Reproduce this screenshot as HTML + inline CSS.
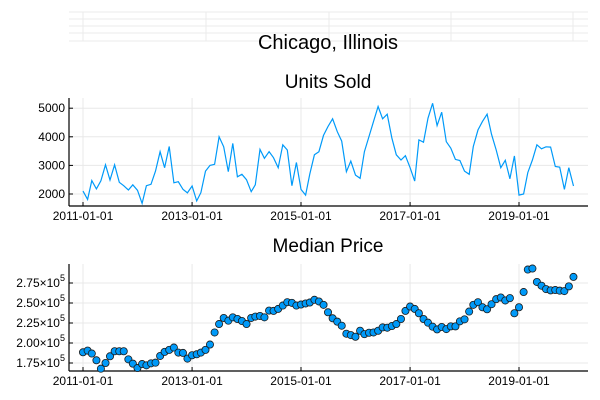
<!DOCTYPE html>
<html><head><meta charset="utf-8"><style>
html,body{margin:0;padding:0;background:#fff;}
svg{display:block;font-family:"Liberation Sans","DejaVu Sans",sans-serif;}
</style></head><body>
<svg id="chart" width="600" height="400">
<g id="bg-grid"></g>
<text x="328" y="49" font-size="20" text-anchor="middle" fill="#000">Chicago, Illinois</text>
<text x="328" y="88" font-size="19" text-anchor="middle" fill="#000">Units Sold</text>
<text x="328" y="252" font-size="19" text-anchor="middle" fill="#000">Median Price</text>
<g id="topPanel"></g>
<g id="botPanel"></g>
</svg>
<script>
const units = [2100,1810,2470,2180,2460,3020,2490,3020,2410,2290,2140,2320,2130,1670,2290,2340,2800,3480,2920,3660,2390,2430,2160,2040,
2280,1760,2050,2800,3000,3040,4000,3650,2780,3770,2600,2690,2500,2080,2320,3560,3250,3480,3270,2920,3720,3540,2290,3100,
2160,1960,2700,3370,3480,4050,4360,4630,4180,3850,2780,3150,2660,2550,3480,4010,4530,5060,4630,4790,3950,3370,3190,3340,
2920,2450,3890,3810,4650,5170,4390,4860,3830,3600,3210,3170,2800,2690,3660,4240,4530,4790,4090,3540,2920,3180,2530,3330,
1960,2000,2750,3190,3720,3580,3650,3640,2960,2940,2160,2920,2280];
const prices = [188400,190500,186800,178400,167900,175000,183400,189700,189700,189700,179600,174200,168700,173700,172100,174600,175400,183800,188900,191400,194300,188000,187600,180500,
184700,185900,188000,191400,198100,213200,223700,231300,227900,232100,230000,227500,223700,231300,233000,233800,232100,240500,240100,242600,246800,251000,250200,246800,
248100,249400,250600,254000,251900,247700,238400,230900,226700,221600,211600,209900,207800,215300,211100,212800,213200,215300,219500,219100,221200,223700,230000,240100,
245600,242600,237200,230000,225400,220400,217000,220000,217400,220800,220800,227100,229600,239300,247700,251000,244700,242200,248500,254800,256900,253200,256100,237200,
244700,263700,291800,293100,276300,271600,267400,265800,266200,265400,264900,270800,282600];
const unitTicks = [2000,3000,4000,5000];
const priceTicks = [175000,200000,225000,250000,275000];
const priceTickLabels = ["1.75","2.00","2.25","2.50","2.75"];
const dateTicks = ["2011-01-01","2013-01-01","2015-01-01","2017-01-01","2019-01-01"];
const startMonth = [2011,0];

const NS="http://www.w3.org/2000/svg";
function el(tag,attrs,parent){const e=document.createElementNS(NS,tag);for(const k in attrs)e.setAttribute(k,attrs[k]);parent.appendChild(e);return e;}
const day0 = Date.UTC(2011,0,1);
const pxPerDay = 109/730.5;
function xDate(ms){return 83+(ms-day0)/86400000*pxPerDay;}
function xIdx(i){return xDate(Date.UTC(startMonth[0],startMonth[1]+i,1));}
function xStr(s){const p=s.split('-');return xDate(Date.UTC(+p[0],+p[1]-1,+p[2]));}
const yU = v => 194 - (v-2000)*28.6/1000;
const yP = v => 343 - (v-200000)*20/25000;
const L=69,R=588;

const bg=document.getElementById('bg-grid');
[12,19,26,33,41].forEach(y=>{const l=el('line',{x1:L,x2:R,y1:y,y2:y,stroke:'#ebebeb','stroke-width':1},bg);

});
[83,206,329,451,573].forEach(x=>{const l=el('line',{x1:x,x2:x,y1:12,y2:41,stroke:'#ebebeb','stroke-width':1},bg);

});

function panel(g,ptop,bottom,yf,ticks,labFn){
  ticks.forEach((t,i)=>{const y=yf(t);
    const gl=el('line',{x1:L,x2:R,y1:y,y2:y,stroke:'#e8e8e8','stroke-width':1},g);
    
    
    const tk=el('line',{x1:L,x2:L+4,y1:y,y2:y,stroke:'#000','stroke-width':1},g);
    
    
    labFn(t,i,y);
  });
  dateTicks.forEach(d=>{const x=xStr(d);
    const gl=el('line',{x1:x,x2:x,y1:ptop,y2:bottom,stroke:'#e8e8e8','stroke-width':1},g);
    
    
    const tk=el('line',{x1:x,x2:x,y1:bottom,y2:bottom-4,stroke:'#000','stroke-width':1},g);
    
    
    const t=el('text',{x:x,y:bottom+14,'font-size':12,'text-anchor':'middle',fill:'#000'},g);t.textContent=d;
    
    
  });
  const ax=el('line',{x1:L,x2:R,y1:bottom,y2:bottom,stroke:'#000','stroke-width':1.2},g);
  
  
  const ay=el('line',{x1:L,x2:L,y1:ptop,y2:bottom,stroke:'#000','stroke-width':1.2},g);
  
  
}
const topG=document.getElementById('topPanel');
panel(topG,98,206,yU,unitTicks,(t,i,y)=>{const tx=el('text',{x:L-4,y:y+4,'font-size':12,'text-anchor':'end',fill:'#000'},topG);tx.textContent=t;
  
  });
const pts=units.map((v,i)=>xIdx(i).toFixed(1)+','+yU(v).toFixed(1)).join(' ');
const line=el('polyline',{points:pts,fill:'none',stroke:'#009af9','stroke-width':1.2},topG);



const botG=document.getElementById('botPanel');
panel(botG,264,371,yP,priceTicks,(t,i,y)=>{const tx=el('text',{x:L-4,y:y+4,'font-size':12,'text-anchor':'end',fill:'#000'},botG);
  tx.appendChild(document.createTextNode(priceTickLabels[i]+'×10'));
  const sp=el('tspan',{dy:-6,'font-size':9},tx);sp.textContent='5';
  
  });
prices.forEach((v,i)=>{const c=el('circle',{cx:xIdx(i),cy:yP(v),r:3.6,fill:'#009af9',stroke:'#1a1a1a','stroke-width':0.8},botG);
  
  });
</script>
</body></html>
